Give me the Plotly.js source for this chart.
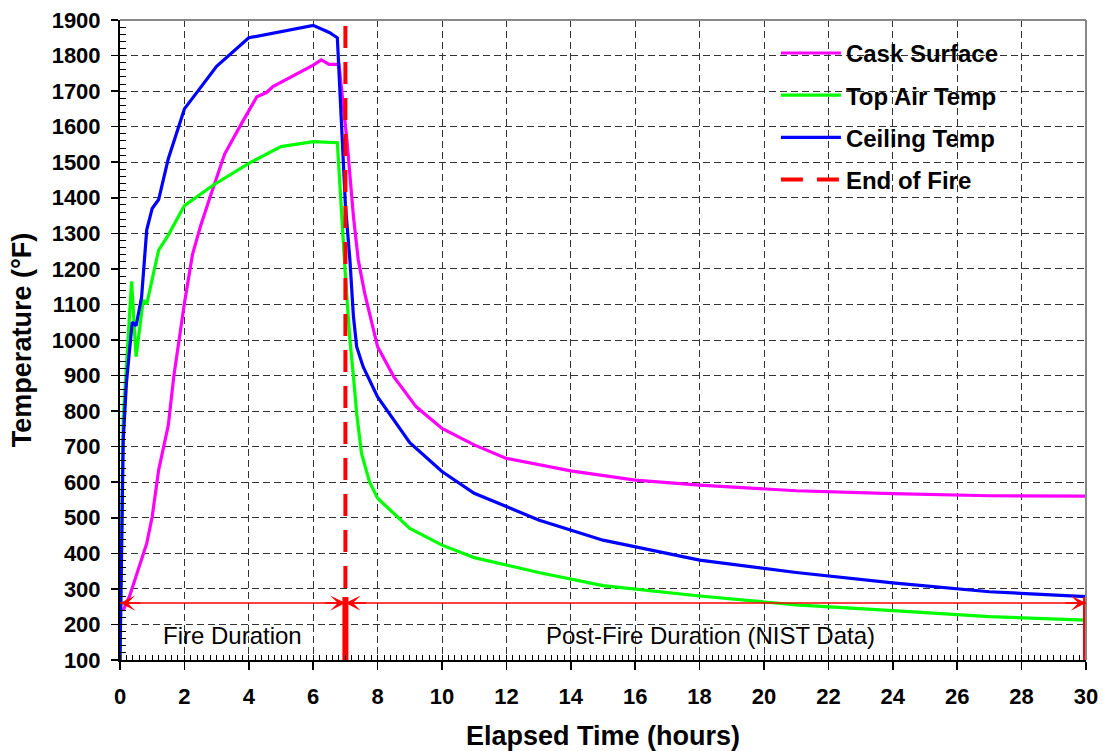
<!DOCTYPE html>
<html>
<head>
<meta charset="utf-8">
<script src="https://cdn.plot.ly/plotly-3.0.1.min.js"></script>
<style>html,body{margin:0;padding:0;background:#fff}#chart{width:1103px;height:751px}</style>
</head>
<body>
<div id="chart"></div>
<script>
// ---- Data ----
const caskX = [0.1, 0.3, 0.83, 1.0, 1.2, 1.5, 1.67, 2.0, 2.25, 2.5, 2.8, 3.25, 3.75, 4.25, 4.55, 4.75, 6.0, 6.25, 6.5, 6.8, 7.05, 7.25, 7.4, 7.6, 8.0, 8.5, 9.2, 10, 11, 12, 14, 16, 18, 21, 24, 27, 30];
const caskY = [240, 280, 428, 503, 634, 760, 897, 1103, 1240, 1320, 1403, 1523, 1605, 1684, 1696, 1713, 1773, 1788, 1775, 1775, 1560, 1347, 1225, 1131, 981, 897, 812, 751, 705, 667, 632, 606, 592, 576, 568, 562, 561];

const airX = [0, 0.1, 0.36, 0.5, 0.72, 0.83, 1.2, 1.5, 2.0, 2.9, 4.0, 5.0, 6.0, 6.75, 7.0, 7.14, 7.25, 7.35, 7.5, 7.75, 8.0, 9, 10, 11, 13, 15, 18, 21, 24, 27, 30];
const airY = [100, 780, 1165, 953, 1112, 1101, 1253, 1295, 1378, 1436, 1497, 1544, 1558, 1555, 1180, 1000, 897, 794, 681, 601, 555, 470, 423, 388, 346, 309, 280, 255, 239, 222, 212];

const ceilX = [0, 0.1, 0.2, 0.38, 0.5, 0.67, 0.83, 1.0, 1.2, 1.5, 2.0, 3.0, 4.0, 6.0, 6.5, 6.75, 7.0, 7.14, 7.25, 7.35, 7.55, 8.0, 9, 10, 11, 13, 15, 18, 21, 24, 27, 30];
const ceilY = [100, 720, 880, 1050, 1040, 1120, 1310, 1370, 1395, 1510, 1650, 1770, 1850, 1885, 1865, 1850, 1380, 1225, 1066, 981, 925, 840, 711, 630, 569, 494, 437, 381, 346, 317, 292, 278];

const endOfFireX = [7, 7];
const endOfFireY = [100, 1900];

const markerXs = [7, 30];          // thick red markers at end of fire / end of data
const markerTop = 277;
const durationY = 260;             // level of the duration arrows
const spanStart = 0, spanFire = 7, spanEnd = 30;
const labelY = 170;
const fireLabelX = 3.5, postLabelX = 18.35;
const fireLabel = 'Fire Duration';
const postLabel = 'Post-Fire Duration (NIST Data)';

const xTicks = [0,2,4,6,8,10,12,14,16,18,20,22,24,26,28,30];

const FONT = 'Arial, "Liberation Sans", sans-serif';

const traces = [
  {x: caskX, y: caskY, name: 'Cask Surface', mode: 'lines', line: {color: '#FF00FF', width: 3.2}, legendgroup: 'a'},
  {x: airX, y: airY, name: 'Top Air Temp', mode: 'lines', line: {color: '#00FF00', width: 3.2}, legendgroup: 'b'},
  {x: ceilX, y: ceilY, name: 'Ceiling Temp', mode: 'lines', line: {color: '#0000FF', width: 3.2}, legendgroup: 'c'},
  {x: endOfFireX, y: endOfFireY, name: 'End of Fire', mode: 'lines', line: {color: '#FF0000', width: 4, dash: '22px,14px'}, legendgroup: 'd'},
  {x: [markerXs[0], markerXs[0], null, markerXs[1], markerXs[1]],
   y: [100, markerTop, null, 100, markerTop], mode: 'lines', showlegend: false,
   line: {color: '#FF0000', width: 6}, hoverinfo: 'skip'}
];

function arrowHead(x, dir) {
  return {x: x, y: durationY, xref: 'x', yref: 'y', text: '', showarrow: true,
          ax: -dir * 22, ay: 0, axref: 'pixel', ayref: 'pixel',
          arrowhead: 3, arrowsize: 1.7, arrowwidth: 1.5, arrowcolor: '#FF0000'};
}

const layout = {
  width: 1103, height: 751,
  margin: {l: 120, r: 17, t: 20, b: 91},
  paper_bgcolor: '#fff', plot_bgcolor: '#fff',
  font: {family: FONT, color: '#000'},
  showlegend: true,
  legend: {x: 0.679, y: 0.983, xanchor: 'left', yanchor: 'top', itemwidth: 60,
           bgcolor: 'rgba(0,0,0,0)', borderwidth: 0, tracegroupgap: 8,
           font: {family: FONT, size: 24, weight: 'bold', color: '#000'}},
  xaxis: {
    range: [0, 30], tickvals: xTicks, ticks: 'outside', ticklen: 8, tickwidth: 1.5, tickcolor: '#000',
    showline: true, linecolor: '#000', linewidth: 2, zeroline: false,
    showgrid: true, gridcolor: '#333', gridwidth: 1, griddash: '7px,4px',
    ticklabelstandoff: 8,
    tickfont: {family: FONT, size: 22, weight: 'bold', color: '#000'},
    minor: {dtick: 0.2, ticks: 'inside', ticklen: 5, tickcolor: '#000', tickwidth: 1, showgrid: false},
    title: {text: 'Elapsed Time (hours)', font: {family: FONT, size: 27, weight: 'bold', color: '#000'}, standoff: 22}
  },
  yaxis: {
    range: [100, 1900], dtick: 100, ticks: 'outside', ticklen: 7, tickwidth: 1.5, tickcolor: '#000',
    showline: true, linecolor: '#000', linewidth: 2, zeroline: false,
    showgrid: true, gridcolor: '#333', gridwidth: 1, griddash: '7px,4px',
    ticklabelstandoff: 6,
    tickfont: {family: FONT, size: 22, weight: 'bold', color: '#000'},
    minor: {dtick: 20, ticks: 'inside', ticklen: 6, tickcolor: '#000', tickwidth: 1, showgrid: false},
    title: {text: 'Temperature (°F)', font: {family: FONT, size: 27, weight: 'bold', color: '#000'}, standoff: 12}
  },
  shapes: [
    {type: 'rect', xref: 'paper', yref: 'paper', x0: 0.626, x1: 0.965, y0: 0.711, y1: 0.9875,
     fillcolor: '#fff', line: {width: 0}, layer: 'between'},
    {type: 'line', xref: 'paper', yref: 'paper', x0: 0, x1: 1, y0: 1, y1: 1, line: {color: '#888', width: 2}},
    {type: 'line', xref: 'paper', yref: 'paper', x0: 1, x1: 1, y0: 0, y1: 1, line: {color: '#888', width: 2}},
    {type: 'line', xref: 'x', yref: 'y', x0: spanStart, x1: spanEnd, y0: durationY, y1: durationY,
     line: {color: '#FF0000', width: 1.5}}
  ],
  annotations: [
    arrowHead(spanStart, -1), arrowHead(spanFire, 1), arrowHead(spanFire, -1), arrowHead(spanEnd, 1),
    {x: fireLabelX, y: labelY, xref: 'x', yref: 'y', text: fireLabel, showarrow: false,
     font: {family: FONT, size: 24, color: '#000'}},
    {x: postLabelX, y: labelY, xref: 'x', yref: 'y', text: postLabel, showarrow: false,
     font: {family: FONT, size: 24, color: '#000'}}
  ]
};

Plotly.newPlot('chart', traces, layout, {displayModeBar: false, staticPlot: true});
</script>
</body>
</html>
